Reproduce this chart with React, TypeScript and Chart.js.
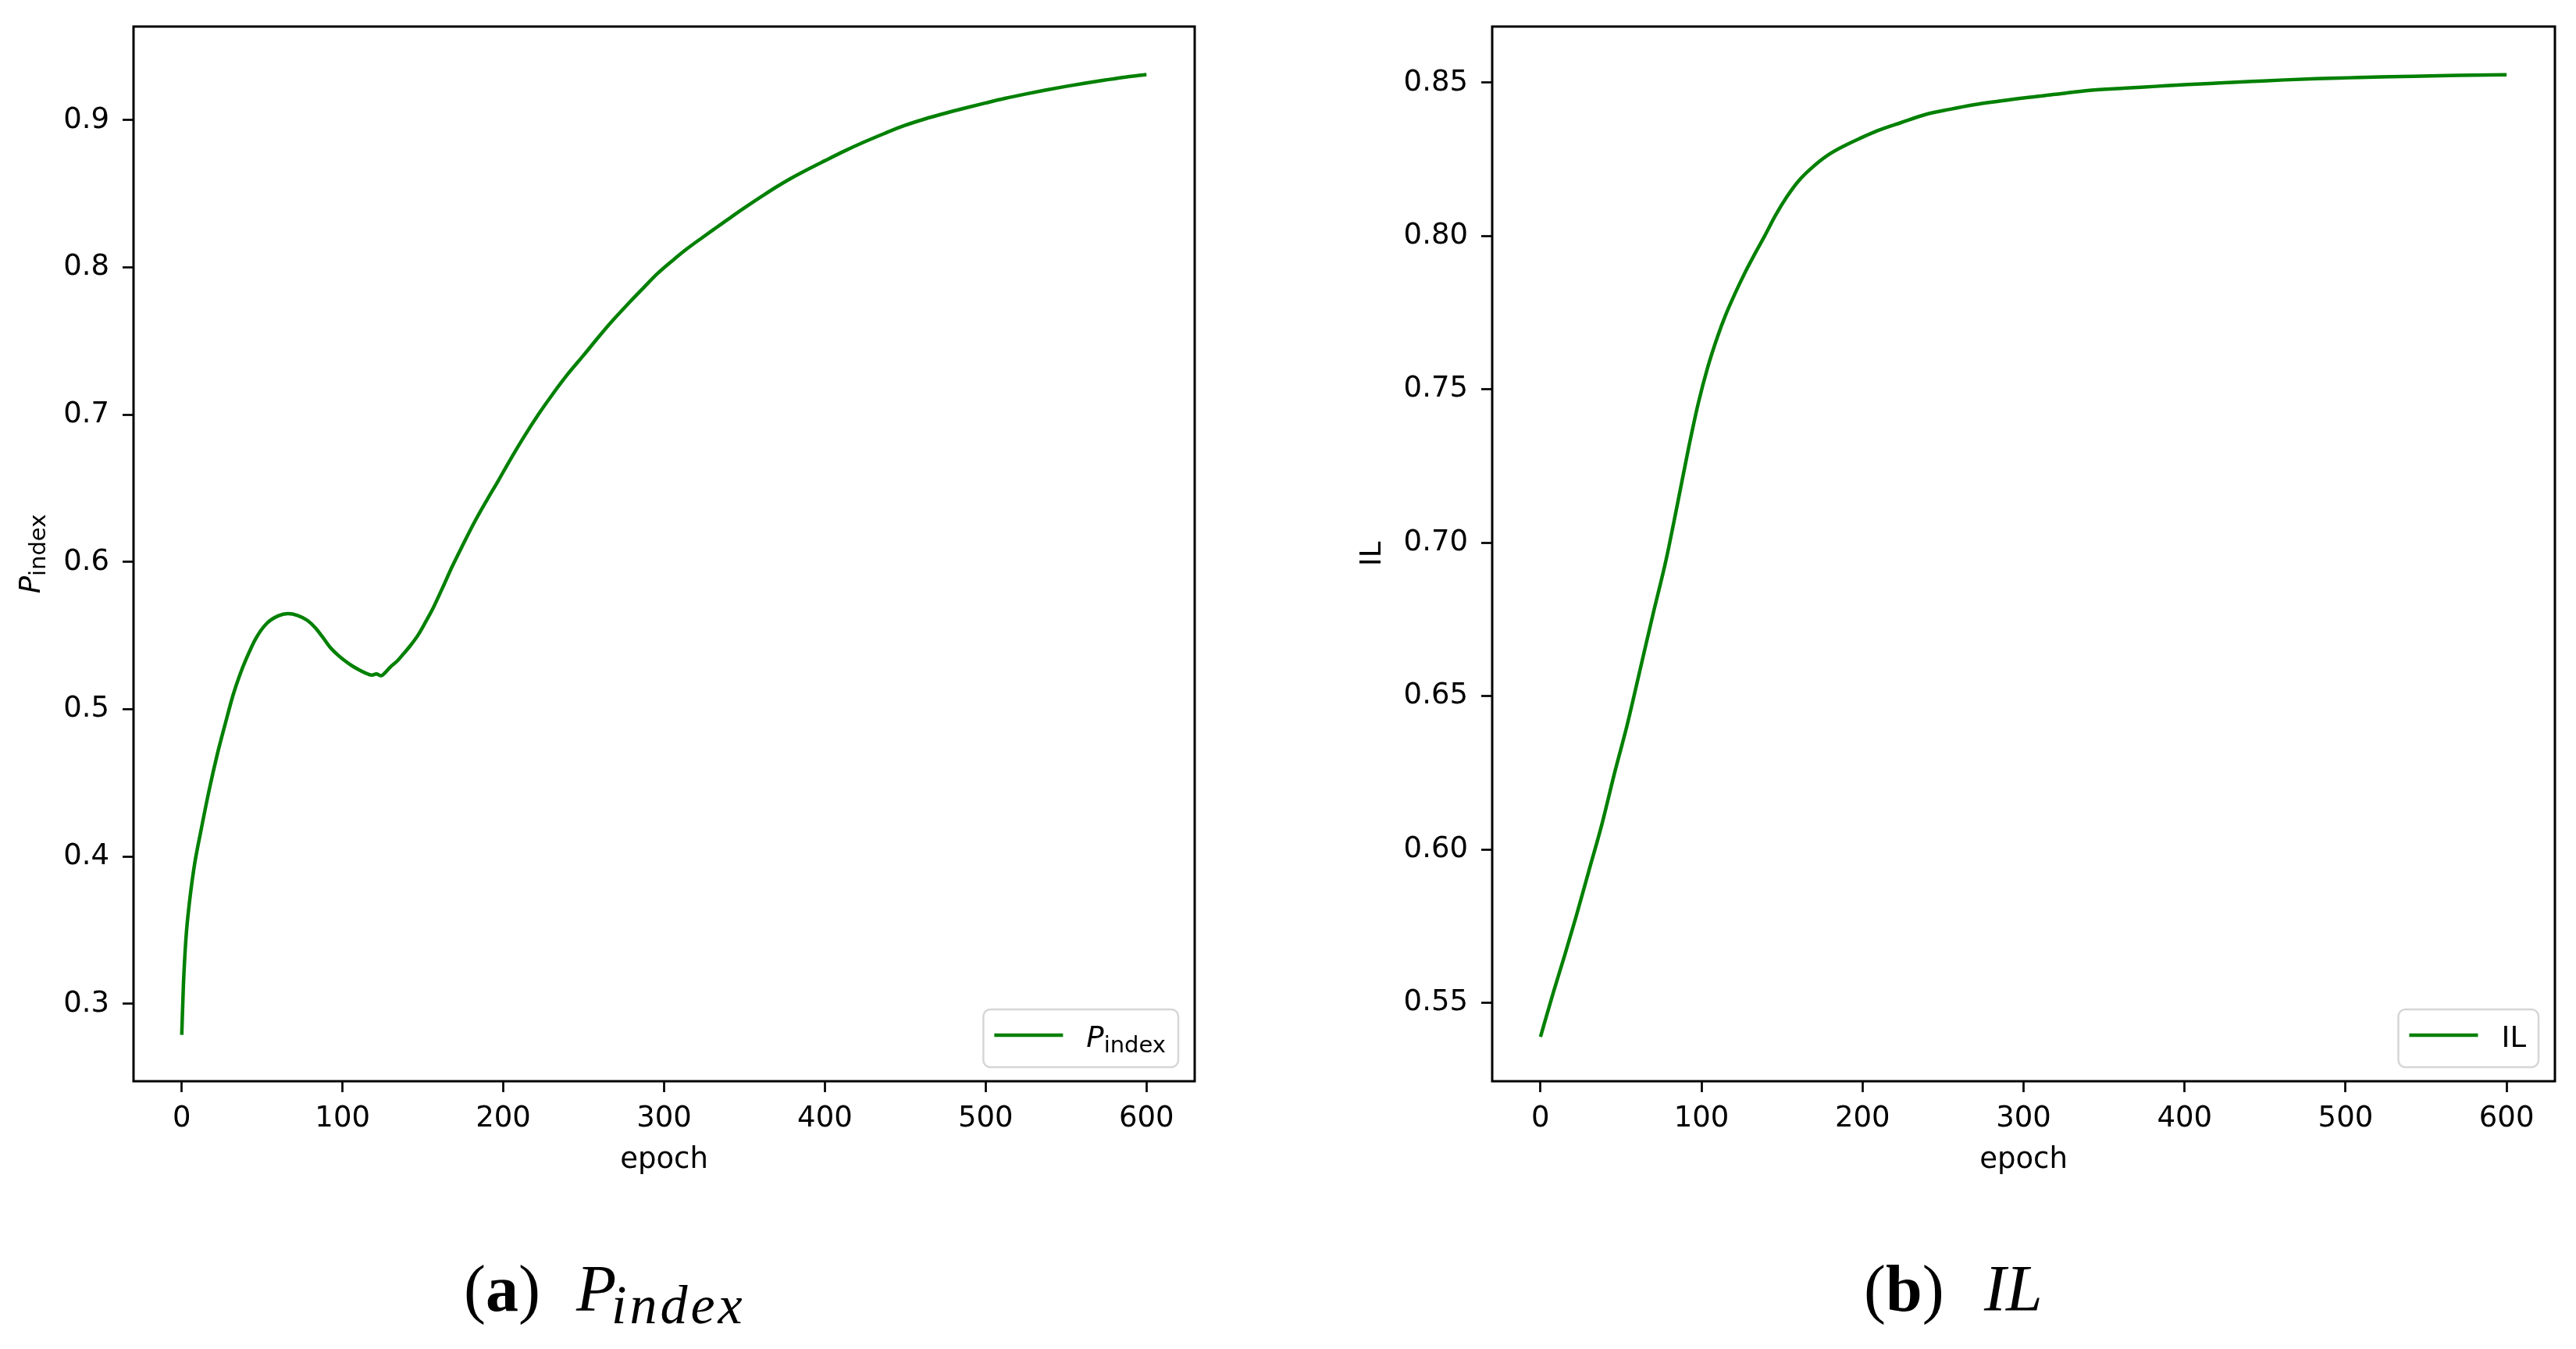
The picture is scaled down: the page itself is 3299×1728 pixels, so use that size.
import React, { useEffect, useRef } from "react";
import { Chart, registerables } from "chart.js";

Chart.register(...registerables);

const FONT = "'DejaVu Sans', sans-serif";
const SERIF = "'Liberation Serif', 'DejaVu Serif', serif";
const GREEN = "#008000";

// ---------- data ----------
const X_LABEL = "epoch";
const X_TICKS = [0, 100, 200, 300, 400, 500, 600];

const PINDEX_EPOCHS = [
  0, 1, 2, 3, 5, 8, 12, 17, 22, 27, 32, 36, 40, 46, 53, 60, 66, 72, 78, 83, 88, 92, 97,
  102, 106, 110, 114, 118, 121, 124, 127, 130, 134, 138, 142, 147, 152, 156, 162, 168,
  175, 182, 190, 197, 203, 212, 222, 231, 240, 250, 259, 268, 278, 287, 296, 305, 314,
  324, 333, 342, 352, 361, 370, 378, 387, 400, 412, 424, 437, 449, 462, 474, 487, 500,
  512, 525, 537, 550, 562, 575, 587, 600,
];
const PINDEX_VALUES = [
  0.279, 0.312, 0.334, 0.35, 0.371, 0.395, 0.418, 0.445, 0.469, 0.49, 0.51, 0.523, 0.534,
  0.548, 0.5585, 0.5635, 0.565, 0.5638, 0.5605, 0.5555, 0.5485, 0.5425, 0.537, 0.5325,
  0.5295, 0.527, 0.5248, 0.5232, 0.524, 0.5228, 0.5255, 0.529, 0.5328, 0.5378, 0.543,
  0.5505, 0.56, 0.568, 0.582, 0.5965, 0.612, 0.627, 0.6425, 0.6555, 0.667, 0.6835, 0.7005,
  0.7145, 0.7275, 0.7405, 0.7525, 0.764, 0.7758, 0.786, 0.796, 0.8045, 0.8125, 0.8205,
  0.8275, 0.8345, 0.842, 0.8485, 0.8548, 0.86, 0.8653, 0.8725, 0.879, 0.885, 0.891,
  0.8962, 0.9008, 0.9045, 0.9082, 0.9117, 0.9148, 0.9178, 0.9204, 0.923, 0.9252, 0.9274,
  0.9293, 0.931,
];
const PINDEX_Y_TICKS = [0.3, 0.4, 0.5, 0.6, 0.7, 0.8, 0.9];

const IL_EPOCHS = [
  0, 8, 15, 22, 30, 38, 46, 54, 62, 70, 78, 85, 92, 98, 104, 110, 115, 121, 127, 133, 139,
  146, 153, 160, 168, 178, 189, 199, 209, 224, 239, 254, 269, 285, 301, 320, 341, 362, 382,
  402, 422, 442, 462, 482, 502, 522, 542, 570, 600,
];
const IL_VALUES = [
  0.539, 0.5535, 0.5655, 0.578, 0.593, 0.608, 0.625, 0.641, 0.659, 0.677, 0.6945, 0.7125,
  0.731, 0.7455, 0.7575, 0.7673, 0.7743, 0.7815, 0.7881, 0.7941, 0.7998, 0.8068, 0.8128,
  0.8178, 0.822, 0.8262, 0.8295, 0.832, 0.8343, 0.837, 0.8396, 0.8413, 0.8428, 0.844,
  0.8451, 0.8462, 0.8475, 0.8482, 0.8488, 0.8494, 0.8499, 0.8504, 0.8509, 0.8513, 0.8516,
  0.8519, 0.8521, 0.8524, 0.8526,
];
const IL_Y_TICKS = [0.55, 0.6, 0.65, 0.7, 0.75, 0.8, 0.85];

// ---------- helpers ----------
type MathText = { main: string; sub?: string; italic: boolean };

const MAIN_SIZE = 37;
const SUB_SIZE = 29;
const SUB_SHIFT = 7;

function mathWidth(ctx: CanvasRenderingContext2D, t: MathText) {
  ctx.font = `${t.italic ? "italic " : ""}${MAIN_SIZE}px ${FONT}`;
  let w = ctx.measureText(t.main).width;
  if (t.sub) {
    ctx.font = `${SUB_SIZE}px ${FONT}`;
    w += ctx.measureText(t.sub).width;
  }
  return w;
}

function drawMath(ctx: CanvasRenderingContext2D, t: MathText, x: number, y: number) {
  ctx.font = `${t.italic ? "italic " : ""}${MAIN_SIZE}px ${FONT}`;
  ctx.fillText(t.main, x, y);
  const w = ctx.measureText(t.main).width;
  if (t.sub) {
    ctx.font = `${SUB_SIZE}px ${FONT}`;
    ctx.fillText(t.sub, x + w, y + SUB_SHIFT);
  }
}

type PanelSpec = {
  epochs: number[];
  values: number[];
  yTicks: number[];
  yMin: number;
  yMax: number;
  decimals: number;
  yWidth: number;
  padRight: number;
  yTitle?: string;
  yTitlePad?: number;
  yMathLabel?: MathText;
  yMathX?: number;
  legend: MathText;
  label: string;
};

function makeDecor(p: PanelSpec) {
  return {
    id: "mplDecor",
    afterDraw(chart: any) {
      const ctx: CanvasRenderingContext2D = chart.ctx;
      const a = chart.chartArea;
      ctx.save();
      // frame (4 spines)
      ctx.strokeStyle = "#000";
      ctx.lineWidth = 3;
      ctx.strokeRect(a.left, a.top, a.right - a.left, a.bottom - a.top);

      ctx.fillStyle = "#000";
      ctx.textAlign = "left";
      ctx.textBaseline = "alphabetic";

      // math y label
      if (p.yMathLabel) {
        ctx.save();
        const w = mathWidth(ctx, p.yMathLabel);
        ctx.translate(p.yMathX || 50, (a.top + a.bottom) / 2);
        ctx.rotate(-Math.PI / 2);
        drawMath(ctx, p.yMathLabel, -w / 2, 0);
        ctx.restore();
      }

      // legend
      const tw = mathWidth(ctx, p.legend);
      const boxW = 14 + 88 + 30 + tw + 16;
      const boxH = 74;
      const right = a.right - 21;
      const bottom = a.bottom - 18;
      const left = right - boxW;
      const top = bottom - boxH;
      const r = 9;
      ctx.beginPath();
      ctx.moveTo(left + r, top);
      ctx.lineTo(right - r, top);
      ctx.arcTo(right, top, right, top + r, r);
      ctx.lineTo(right, bottom - r);
      ctx.arcTo(right, bottom, right - r, bottom, r);
      ctx.lineTo(left + r, bottom);
      ctx.arcTo(left, bottom, left, bottom - r, r);
      ctx.lineTo(left, top + r);
      ctx.arcTo(left, top, left + r, top, r);
      ctx.closePath();
      ctx.fillStyle = "rgba(255,255,255,0.8)";
      ctx.fill();
      ctx.strokeStyle = "#d6d6d6";
      ctx.lineWidth = 2.5;
      ctx.stroke();

      ctx.beginPath();
      ctx.strokeStyle = GREEN;
      ctx.lineWidth = 4.5;
      ctx.moveTo(left + 14, top + 33);
      ctx.lineTo(left + 102, top + 33);
      ctx.stroke();

      ctx.fillStyle = "#000";
      drawMath(ctx, p.legend, left + 132, top + 48);
      ctx.restore();
    },
  };
}

const tickFont = { size: MAIN_SIZE, family: FONT };
const gridOpts = {
  drawOnChartArea: false,
  drawTicks: true,
  tickLength: 14,
  tickWidth: 2.7,
  tickColor: "#000",
  color: "#000",
};

function buildConfig(p: PanelSpec): any {
  return {
    type: "line",
    data: {
      datasets: [
        {
          label: p.label,
          data: p.epochs.map((x, i) => ({ x, y: p.values[i] })),
          borderColor: GREEN,
          backgroundColor: GREEN,
          borderWidth: 4.5,
          pointRadius: 0,
          fill: false,
          cubicInterpolationMode: "monotone",
        },
      ],
    },
    options: {
      animation: false,
      responsive: false,
      maintainAspectRatio: false,
      layout: { padding: { left: 0, top: 34, right: p.padRight, bottom: 0 } },
      plugins: {
        legend: { display: false },
        tooltip: { enabled: false },
        title: { display: false },
      },
      scales: {
        x: {
          type: "linear",
          min: -30,
          max: 630,
          afterBuildTicks: (s: any) => {
            s.ticks = X_TICKS.map((v) => ({ value: v }));
          },
          afterFit: (s: any) => {
            s.height = 175;
            s.paddingLeft = 0;
            s.paddingRight = 0;
          },
          ticks: {
            font: tickFont,
            color: "#000",
            padding: 12,
            maxRotation: 0,
            minRotation: 0,
            autoSkip: false,
            callback: (v: any) => String(v),
          },
          grid: gridOpts,
          border: { display: false },
          title: {
            display: true,
            text: X_LABEL,
            font: tickFont,
            color: "#000",
            padding: { top: 0, bottom: 51 },
          },
        },
        y: {
          type: "linear",
          min: p.yMin,
          max: p.yMax,
          afterBuildTicks: (s: any) => {
            s.ticks = p.yTicks.map((v) => ({ value: v }));
          },
          afterFit: (s: any) => {
            s.width = p.yWidth;
            s.paddingTop = 0;
            s.paddingBottom = 0;
          },
          ticks: {
            font: tickFont,
            color: "#000",
            padding: 17,
            autoSkip: false,
            callback: (v: any) => Number(v).toFixed(p.decimals),
          },
          grid: gridOpts,
          border: { display: false },
          title: p.yTitle
            ? {
                display: true,
                text: p.yTitle,
                font: tickFont,
                color: "#000",
                padding: { top: p.yTitlePad || 0, bottom: 0 },
              }
            : { display: false },
        },
      },
    },
    plugins: [makeDecor(p)],
  };
}

const PANEL_H = 1560;

function Panel({ spec, left, width }: { spec: PanelSpec; left: number; width: number }) {
  const ref = useRef<HTMLCanvasElement>(null);
  useEffect(() => {
    if (!ref.current) return;
    const chart = new Chart(ref.current, buildConfig(spec));
    return () => chart.destroy();
  }, []);
  return (
    <canvas
      ref={ref}
      width={width}
      height={PANEL_H}
      style={{ position: "absolute", left, top: 0, width, height: PANEL_H }}
    />
  );
}

function cap(left: number, baseline: number, size: number, extra: any = {}): any {
  return {
    position: "absolute",
    left,
    top: baseline - 0.8375 * size,
    fontSize: size,
    lineHeight: `${size}px`,
    fontFamily: SERIF,
    whiteSpace: "nowrap",
    color: "#000",
    ...extra,
  };
}

const leftSpec: PanelSpec = {
  epochs: PINDEX_EPOCHS,
  values: PINDEX_VALUES,
  yTicks: PINDEX_Y_TICKS,
  yMin: 0.2475,
  yMax: 0.9636,
  decimals: 1,
  yWidth: 171,
  padRight: 120,
  yMathLabel: { main: "P", sub: "index", italic: true },
  yMathX: 51,
  legend: { main: "P", sub: "index", italic: true },
  label: "P_index",
};

const rightSpec: PanelSpec = {
  epochs: IL_EPOCHS,
  values: IL_VALUES,
  yTicks: IL_Y_TICKS,
  yMin: 0.5245,
  yMax: 0.8683,
  decimals: 2,
  yWidth: 261,
  padRight: 27,
  yTitle: "IL",
  yTitlePad: 86,
  legend: { main: "IL", italic: false },
  label: "IL",
};

export default function App() {
  return (
    <div
      style={{
        position: "fixed",
        left: 0,
        top: 0,
        width: 3299,
        height: 1728,
        background: "#fff",
        overflow: "hidden",
      }}
    >
      <Panel spec={leftSpec} left={0} width={1650} />
      <Panel spec={rightSpec} left={1650} width={1649} />
      <span style={cap(594, 1679, 84)}>
        (<b>a</b>)
      </span>
      <span style={cap(738, 1679, 84, { fontStyle: "italic" })}>P</span>
      <span style={cap(783, 1696, 70, { fontStyle: "italic", letterSpacing: 4 })}>index</span>
      <span style={cap(2387, 1679, 84)}>
        (<b>b</b>)
      </span>
      <span style={cap(2541, 1679, 84, { fontStyle: "italic" })}>IL</span>
    </div>
  );
}
